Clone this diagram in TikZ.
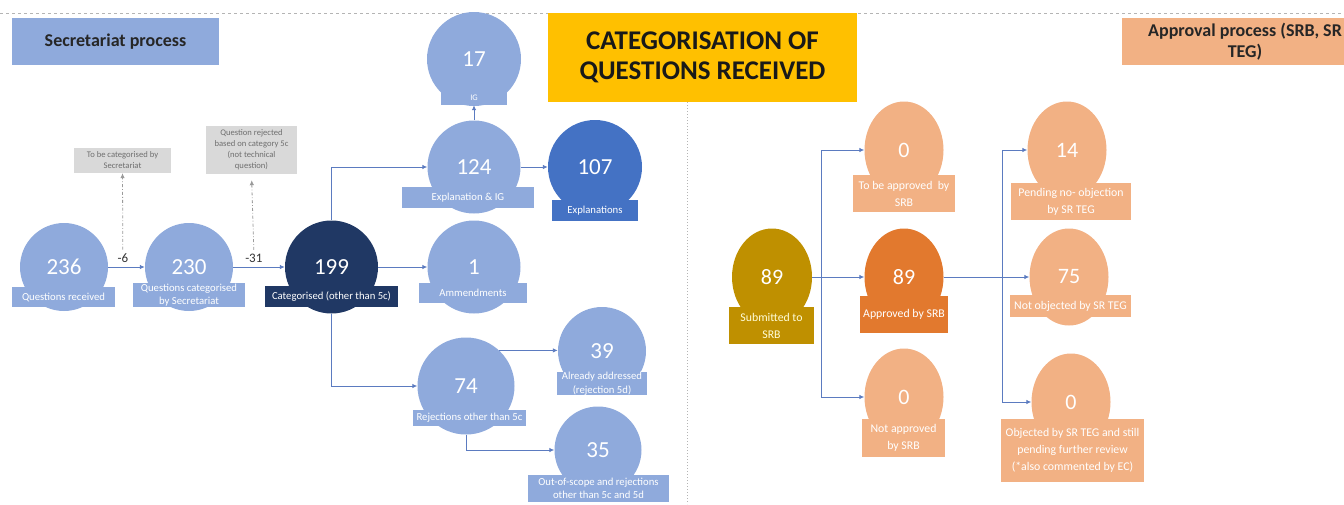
\documentclass[tikz,border=0pt]{standalone}
\usepackage{fontspec}
\setmainfont{Carlito}
\usetikzlibrary{arrows.meta,shapes.geometric}
\definecolor{lblue}{HTML}{8FAADC}
\definecolor{navy}{HTML}{203864}
\definecolor{mblue}{HTML}{4472C4}
\definecolor{cblue}{HTML}{5B7BC0}
\definecolor{lorange}{HTML}{F2B184}
\definecolor{dorange}{HTML}{E2792E}
\definecolor{gold}{HTML}{BF9000}
\definecolor{titlegold}{HTML}{FFC000}
\definecolor{lgrey}{HTML}{D9D9D9}
\definecolor{dgrey}{HTML}{6F6F6F}
\definecolor{sepgrey}{HTML}{B4B4B4}
\begin{document}
\begin{tikzpicture}[x=1pt,y=-1pt,
    num/.style={circle,fill=lblue,text=white,inner sep=0pt,minimum size=92pt,font=\fontsize{23}{23}\selectfont},
    onum/.style={ellipse,fill=lorange,text=white,inner sep=0pt,minimum width=79pt,minimum height=97pt,font=\fontsize{22}{22}\selectfont},
    lbl/.style={fill=lblue,text=white,inner sep=0pt,align=center,font=\fontsize{10.7}{13.5}\selectfont},
    olbl/.style={fill=lorange,text=white,inner sep=0pt,align=center,font=\fontsize{11.8}{17}\selectfont},
    note/.style={fill=lgrey,text=dgrey,inner sep=0pt,align=center,font=\fontsize{8.6}{11}\selectfont},
    head/.style={inner sep=0pt,align=center,text=black!85,font=\bfseries\fontsize{18}{21}\selectfont},
    conn/.style={draw=cblue,line width=0.9pt,-{Latex[length=5pt,width=4.5pt]}},
    link/.style={draw=cblue,line width=0.9pt},
    aside/.style={draw=dgrey!70,line width=0.8pt,dash dot,-{Latex[length=5pt,width=4.5pt]}}]
    \useasboundingbox (0,0) rectangle (1344,504);
    \draw[sepgrey,dashed,line width=0.7pt] (0,13) -- (1344,13);
    \draw[sepgrey,dotted,line width=1pt] (687,102) -- (687,504);

    \node[head,fill=lblue,minimum width=207pt,minimum height=47pt] (hsec) at (115.5,41.5) {Secretariat process};
    \node[fill=titlegold,inner sep=0pt,minimum width=309pt,minimum height=89pt,align=center,text=black!90,font=\bfseries\fontsize{27}{30}\selectfont] (title) at (702.5,57.5) {CATEGORISATION OF\\QUESTIONS RECEIVED};
    \node[head,fill=lorange,minimum width=246pt,minimum height=47pt] (happ) at (1245,41.5) {Approval process (SRB, SR\\TEG)};

    \node[num,minimum size=88pt] (n236) at (64,267) {236};
    \node[num,minimum size=88pt] (n230) at (189,267) {230};
    \node[num,fill=navy,minimum size=93pt] (n199) at (331.5,267) {199};
    \node[num,minimum size=94pt] (n17) at (474,59) {17};
    \node[num,minimum size=93pt] (n124) at (474,167) {124};
    \node[num,fill=mblue,minimum size=94pt] (n107) at (595,167) {107};
    \node[num,minimum size=93pt] (n1) at (474,267) {1};
    \node[num,minimum size=97pt] (n74) at (466,386) {74};
    \node[num,minimum size=88pt] (n39) at (602,351) {39};
    \node[num,minimum size=87pt] (n35) at (598,450) {35};

    \node[lbl,minimum width=103pt,minimum height=20pt] (l236) at (63.5,297) {Questions received};
    \node[lbl,minimum width=112pt,minimum height=24pt] (l230) at (189,295) {Questions categorised\\by Secretariat};
    \node[lbl,fill=navy,minimum width=133pt,minimum height=21pt] (l199) at (331.5,296.5) {Categorised (other than 5c)};
    \node[lbl,minimum width=66pt,minimum height=14pt,font=\fontsize{8.5}{8.5}\selectfont] (l17) at (474,98) {IG};
    \node[lbl,minimum width=132pt,minimum height=21pt] (l124) at (468,197.5) {Explanation \& IG};
    \node[lbl,fill=mblue,minimum width=86pt,minimum height=21pt] (l107) at (595,210.5) {Explanations};
    \node[lbl,minimum width=108pt,minimum height=20pt] (l1) at (473,293) {Ammendments};
    \node[lbl,minimum width=113pt,minimum height=16pt] (l74) at (469.5,418) {Rejections other than 5c};
    \node[lbl,minimum width=90pt,minimum height=23pt] (l39) at (602,383.5) {Already addressed\\(rejection 5d)};
    \node[lbl,minimum width=141pt,minimum height=27pt] (l35) at (598.5,488.5) {Out-of-scope and rejections\\other than 5c and 5d};

    \node[note,minimum width=97pt,minimum height=25pt] (g6) at (122.5,160.5) {To be categorised by\\Secretariat};
    \node[note,minimum width=91pt,minimum height=48pt] (g31) at (251.5,150) {Question rejected\\based on category 5c\\(not technical\\question)};

    \draw[conn] (n236) -- (n230) node[pos=0.4,above=1pt,text=black!80,font=\fontsize{13}{13}\selectfont] (m6) {-6};
    \draw[conn] (n230) -- (n199) node[pos=0.4,above=1pt,text=black!80,font=\fontsize{13}{13}\selectfont] (m31) {-31};
    \draw[aside] (m6.north) -- (g6.south);
    \draw[aside,shorten >=6pt] (m31.north) -- (g31.south);
    \draw[conn] (n199.north) |- (n124.west);
    \draw[conn] (n199) -- (n1);
    \draw[conn] (n199.south) |- (n74.west);
    \draw[conn] (n124.north) -- (l17.south);
    \draw[conn] (n124) -- (n107);
    \draw[conn] (n74.47) -- (n74.47 -| n39.west);
    \draw[conn] (n74.south) |- (n35.west);

    \node[onum,fill=gold,minimum width=80pt] (s89) at (772,277) {89};
    \node[onum] (t0) at (904,150) {0};
    \node[onum,fill=dorange] (a89) at (904,277) {89};
    \node[onum] (b0) at (904,397) {0};
    \node[onum] (p14) at (1067,150) {14};
    \node[onum] (n75) at (1069,277) {75};
    \node[onum] (o0) at (1071,402) {0};

    \node[olbl,fill=gold,text=yellow!15,minimum width=85pt,minimum height=37pt] (ls89) at (771.5,325.5) {Submitted to\\SRB};
    \node[olbl,minimum width=102pt,minimum height=37pt] (lt0) at (904,193.5) {To be approved\ \ by\\SRB};
    \node[olbl,fill=dorange,minimum width=88pt,minimum height=37pt] (la89) at (904,314.5) {Approved by SRB};
    \node[olbl,minimum width=83pt,minimum height=38pt] (lb0) at (903.5,438) {Not approved\\by SRB};
    \node[olbl,minimum width=120pt,minimum height=37pt] (l14) at (1071,201.5) {Pending no- objection\\by SR TEG};
    \node[olbl,minimum width=121pt,minimum height=22pt] (l75) at (1070.5,306) {Not objected by SR TEG};
    \node[olbl,minimum width=143pt,minimum height=63pt] (lo0) at (1072.5,450.5) {Objected by SR TEG and still\\pending further review\\(*also commented by EC)};

    \coordinate (bus1) at (821,277);
    \coordinate (bus2) at (1002,277);
    \draw[link] (s89) -- (bus1);
    \draw[conn] (bus1) |- (t0);
    \draw[conn] (bus1) -- (a89);
    \draw[conn] (bus1) |- (b0);
    \draw[link] (a89) -- (bus2);
    \draw[conn] (bus2) |- (p14);
    \draw[conn] (bus2) -- (n75);
    \draw[conn] (bus2) |- (o0);
\end{tikzpicture}
\end{document}
